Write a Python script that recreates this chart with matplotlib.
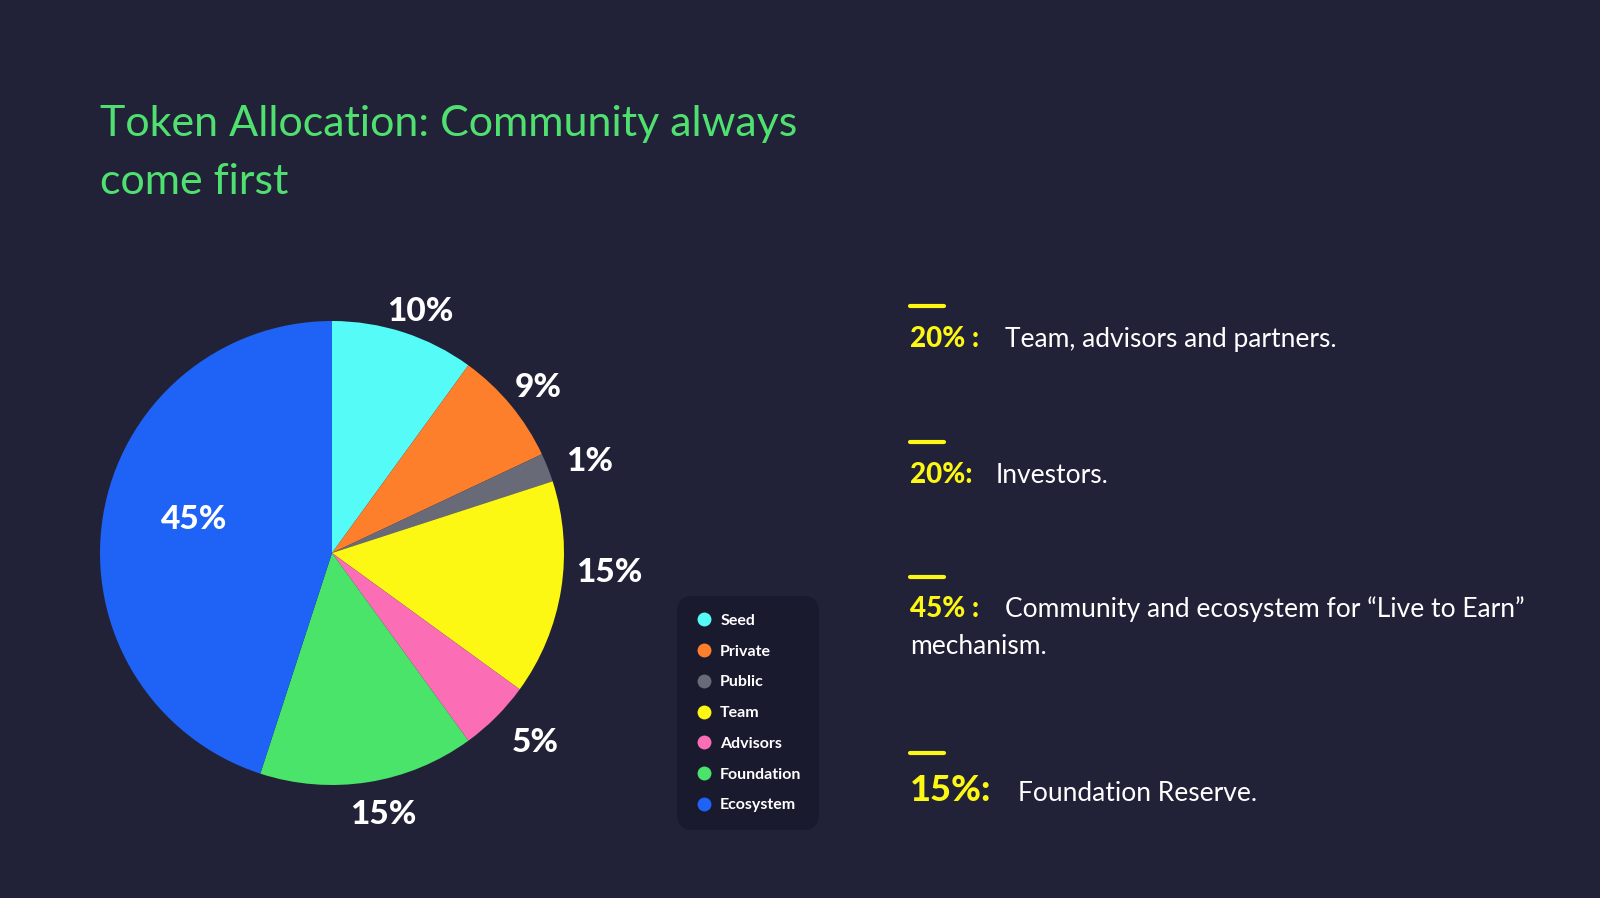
import matplotlib.pyplot as plt
from matplotlib.lines import Line2D
import numpy as np

W, H = 1600, 898

# ---- data ----
categories = ["Seed", "Private", "Public", "Team", "Advisors", "Foundation", "Ecosystem"]
shares = [10, 8, 2, 15, 5, 15, 45]          # slice sizes as drawn
pct_labels = ["10%", "9%", "1%", "15%", "5%", "15%", "45%"]
colors = ["#55fbf7", "#fd7f2c", "#696a77", "#fdf714", "#fb6eb6", "#4be46a", "#1e63f5"]

notes_pct = ["20% :", "20%:", "45% :", "15%:"]
notes_text = ["Team, advisors and partners.", "Investors.",
              "Community and ecosystem for \u201cLive to Earn\u201d\nmechanism.",
              "Foundation Reserve."]

BG = "#212238"
FONT = "Lato"
plt.rcParams["font.family"] = [FONT, "DejaVu Sans"]


def px(x, y):
    return x / W, 1 - y / H


fig = plt.figure(figsize=(W / 100, H / 100), dpi=100, facecolor=BG)

# ---- pie ----
cx, cy, R = 332, 553, 232
lim = 1.3
half = R * lim
ax = fig.add_axes([(cx - half) / W, (H - cy - half) / H, 2 * half / W, 2 * half / H])
ax.set_facecolor(BG)
wedges, _ = ax.pie(shares, colors=colors, startangle=90, counterclock=False,
                   radius=1, wedgeprops=dict(linewidth=0))
ax.set_xlim(-lim, lim)
ax.set_ylim(-lim, lim)
ax.set_aspect("equal")
ax.axis("off")

# label placement: radius and small angle nudge per slice
label_r = [1.11, 1.14, 1.18, 1.2, 1.2, 1.15, 0.61]
label_da = [-2, -1, -2, 5, 2, 2, -4.5]
for w, lab, r, da in zip(wedges, pct_labels, label_r, label_da):
    ang = np.deg2rad((w.theta1 + w.theta2) / 2 + da)
    ax.text(r * np.cos(ang), r * np.sin(ang), lab, color="white", fontsize=24,
            fontweight="black", ha="center", va="center")

# ---- title ----
fig.text(*px(100, 136), "Token Allocation: Community always", color="#4fe070",
         fontsize=31, va="baseline", ha="left")
fig.text(*px(100, 194), "come first", color="#4fe070",
         fontsize=31, va="baseline", ha="left")

# ---- legend ----
handles = [Line2D([], [], marker="o", linestyle="", markersize=10,
                  markerfacecolor=c, markeredgewidth=0) for c in colors]
leg = fig.legend(handles, categories, loc="upper left", bbox_to_anchor=px(677, 596),
                 frameon=True, fancybox=True, facecolor="#1a1a2f", edgecolor="none",
                 framealpha=1, fontsize=11.5, labelcolor="white", handletextpad=0.4,
                 labelspacing=1.04, borderpad=1.1, handlelength=1.2, borderaxespad=0)
leg.get_frame().set_boxstyle("round,pad=0,rounding_size=1.0")
for t in leg.get_texts():
    t.set_fontweight("bold")

# ---- right-hand notes ----
dash_y = [306, 442, 577, 753]
pct_y = [347, 483, 617, 801]
text_x = [1005, 996, 1005, 1018]
pct_size = [20, 20, 20, 26]
for dy, py, tx, p, t, ps in zip(dash_y, pct_y, text_x, notes_pct, notes_text, pct_size):
    fig.add_artist(Line2D([910 / W, 944 / W], [1 - dy / H] * 2, color="#fdf714",
                          linewidth=3, solid_capstyle="round"))
    fig.text(*px(910, py), p, color="#fdf714", fontsize=ps, fontweight="black",
             va="baseline", ha="left")
    lines = t.split("\n")
    fig.text(*px(tx, py), lines[0], color="white", fontsize=19, va="baseline", ha="left")
    for k, extra in enumerate(lines[1:], 1):
        fig.text(*px(910, py + 37 * k), extra, color="white", fontsize=19,
                 va="baseline", ha="left")

fig.savefig("out.png", dpi=100, facecolor=BG)
